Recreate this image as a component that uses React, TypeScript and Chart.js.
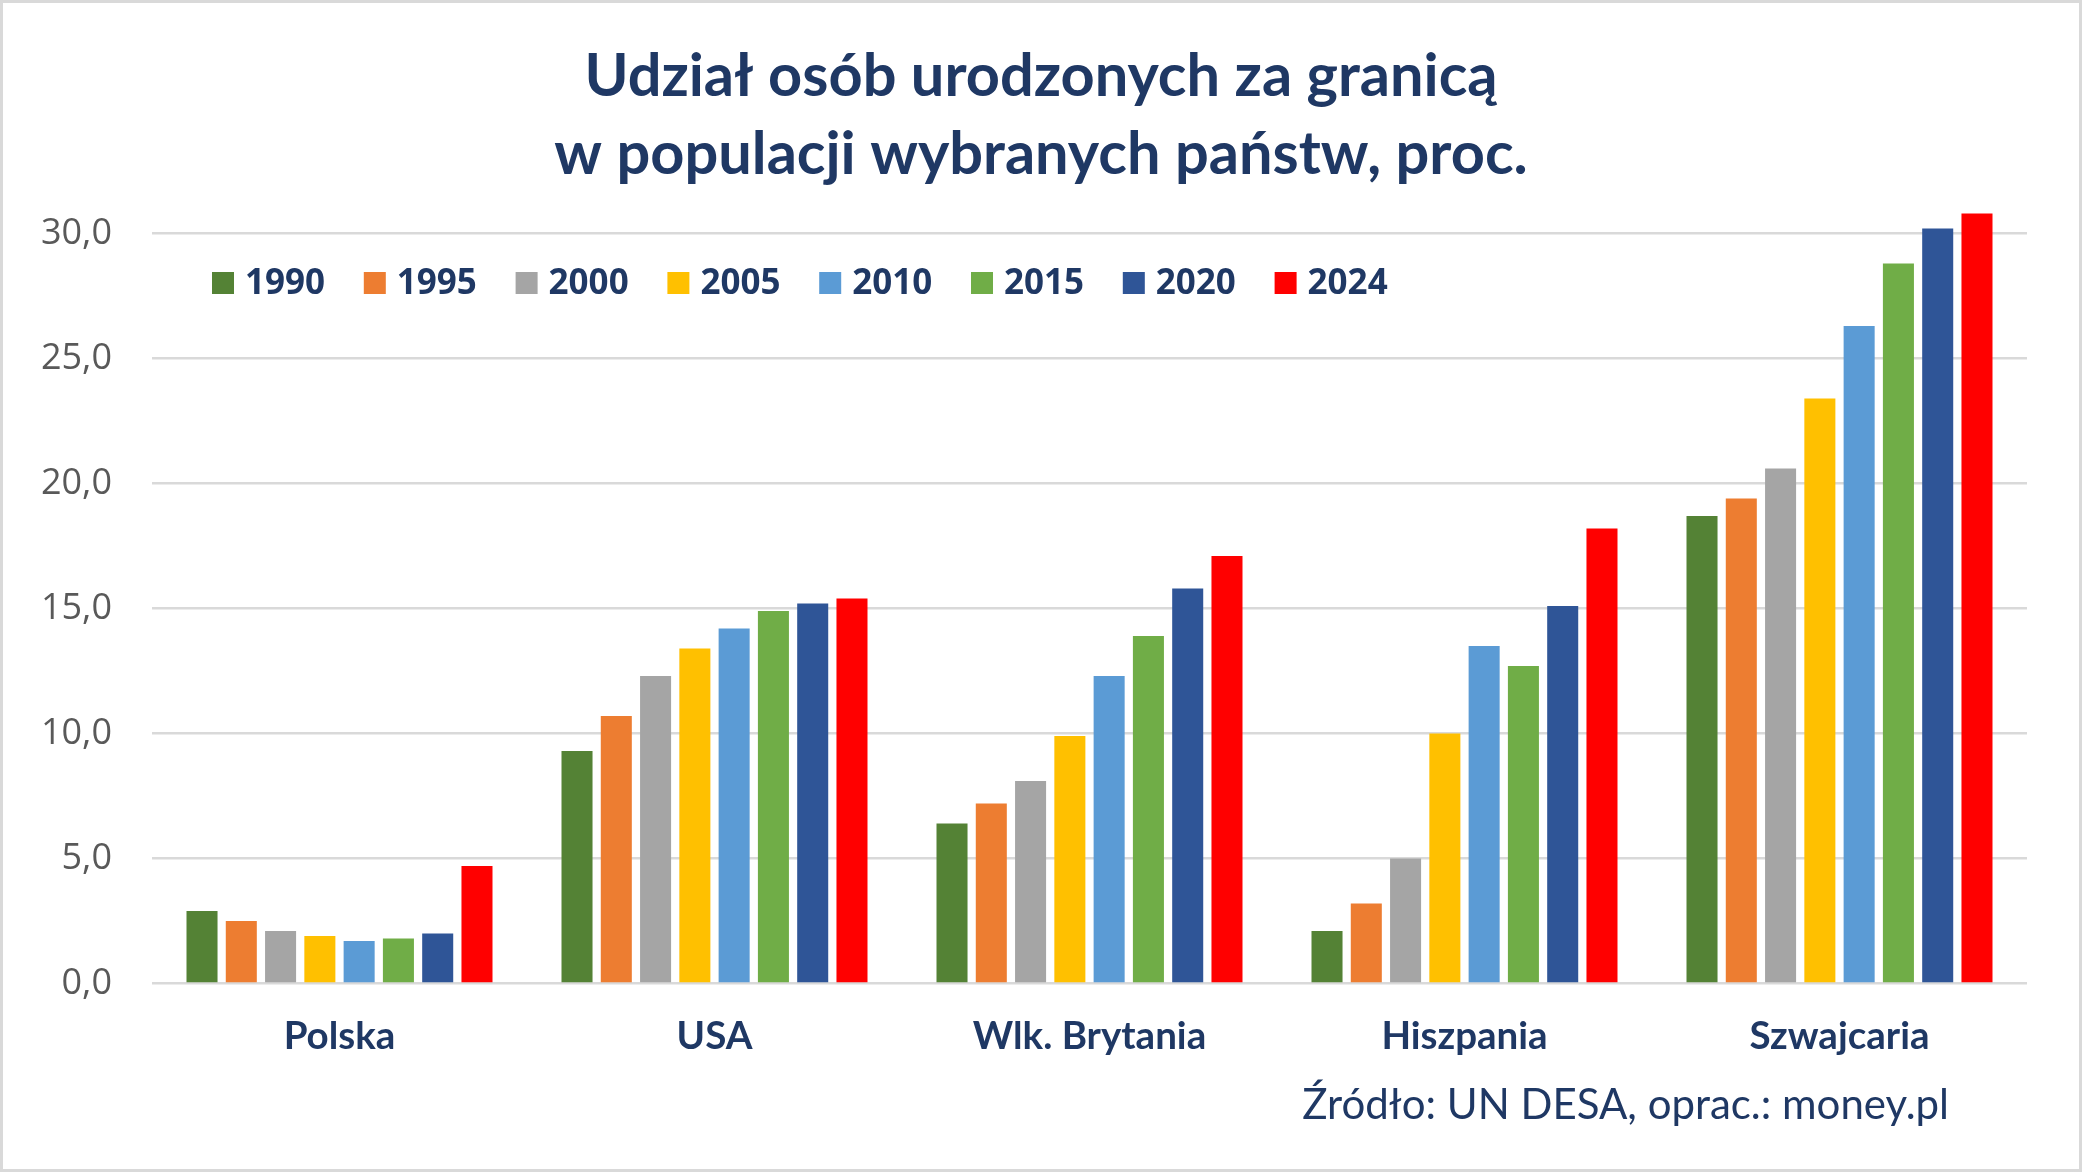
import { useEffect, useRef } from "react";
import { Chart, registerables } from "chart.js";

Chart.register(...registerables);

// Data: share of foreign-born residents, % of population
const categories = ["Polska", "USA", "Wlk. Brytania", "Hiszpania", "Szwajcaria"];
const years = ["1990", "1995", "2000", "2005", "2010", "2015", "2020", "2024"];
const v1990 = [2.9, 9.3, 6.4, 2.1, 18.7];
const v1995 = [2.5, 10.7, 7.2, 3.2, 19.4];
const v2000 = [2.1, 12.3, 8.1, 5.0, 20.6];
const v2005 = [1.9, 13.4, 9.9, 10.0, 23.4];
const v2010 = [1.7, 14.2, 12.3, 13.5, 26.3];
const v2015 = [1.8, 14.9, 13.9, 12.7, 28.8];
const v2020 = [2.0, 15.2, 15.8, 15.1, 30.2];
const v2024 = [4.7, 15.4, 17.1, 18.2, 30.8];
const seriesValues = [v1990, v1995, v2000, v2005, v2010, v2015, v2020, v2024];
const seriesColors = ["#548235", "#ED7D31", "#A5A5A5", "#FFC000", "#5B9BD5", "#70AD47", "#2F5597", "#FF0000"];
const yTicks = [0, 5, 10, 15, 20, 25, 30];
const titleLines = ["Udział osób urodzonych za granicą", "w populacji wybranych państw, proc."];
const sourceNote = "Źródło: UN DESA, oprac.: money.pl";

const NAVY = "#1F3864";
const W = 2082;
const H = 1172;

// White background with a light grey frame
const framePlugin = {
  id: "frame",
  beforeDraw(chart: any) {
    const { ctx } = chart;
    ctx.save();
    ctx.fillStyle = "#FFFFFF";
    ctx.fillRect(0, 0, chart.width, chart.height);
    ctx.strokeStyle = "#D9D9D9";
    ctx.lineWidth = 3;
    ctx.strokeRect(1.5, 1.5, chart.width - 3, chart.height - 3);
    ctx.restore();
  },
};

// Single-row legend placed inside the plot, top-left
const insideLegendPlugin = {
  id: "insideLegend",
  afterDraw(chart: any) {
    const { ctx } = chart;
    ctx.save();
    ctx.font = "700 35px 'Open Sans'";
    ctx.textBaseline = "alphabetic";
    ctx.textAlign = "left";
    chart.data.datasets.forEach((ds: any, i: number) => {
      const x = 212 + i * 151.8;
      ctx.fillStyle = ds.backgroundColor;
      ctx.fillRect(x, 272, 22, 22);
      ctx.fillStyle = NAVY;
      ctx.fillText(ds.label, x + 33, 294);
    });
    ctx.restore();
  },
};

// Source note, bottom right
const sourcePlugin = {
  id: "sourceNote",
  afterDraw(chart: any) {
    const { ctx } = chart;
    ctx.save();
    ctx.font = "400 42px Lato";
    ctx.fillStyle = NAVY;
    ctx.textAlign = "right";
    ctx.textBaseline = "alphabetic";
    ctx.fillText(sourceNote, 1949, 1119);
    ctx.restore();
  },
};

export default function App() {
  const canvasRef = useRef<HTMLCanvasElement | null>(null);

  useEffect(() => {
    const canvas = canvasRef.current;
    if (!canvas) return;
    const chart = new Chart(canvas, {
      type: "bar",
      data: {
        labels: categories,
        datasets: years.map((y, i) => ({
          label: y,
          data: seriesValues[i],
          backgroundColor: seriesColors[i],
          borderWidth: 0,
          categoryPercentage: 0.838,
          barPercentage: 0.79,
        })),
      },
      options: {
        responsive: false,
        animation: false,
        devicePixelRatio: 1,
        layout: { padding: { top: 0, left: 0, right: 0, bottom: 88.5 } },
        plugins: {
          legend: { display: false },
          tooltip: { enabled: false },
          title: {
            display: true,
            text: titleLines,
            color: NAVY,
            font: { family: "Lato", weight: "bold", size: 59.5, lineHeight: "78px" },
            padding: { top: 38, bottom: 4.5 },
          },
        },
        scales: {
          x: {
            grid: { display: false },
            border: { display: false },
            ticks: {
              color: NAVY,
              font: { family: "Lato", weight: "bold", size: 38.5 },
              padding: 22,
              maxRotation: 0,
              autoSkip: false,
            },
            afterFit(scale: any) {
              scale.height = 100;
            },
          },
          y: {
            min: 0,
            max: 31.4,
            grid: { color: "#D9D9D9", lineWidth: 2.5, drawTicks: false },
            border: { display: false },
            ticks: {
              stepSize: 5,
              color: "#595959",
              font: { family: "'Open Sans'", size: 36 },
              padding: 40,
              callback: (v: any) => Number(v).toFixed(1).replace(".", ","),
            },
            afterBuildTicks(scale: any) {
              scale.ticks = yTicks.map((value) => ({ value }));
            },
            afterFit(scale: any) {
              scale.width = 152;
            },
          },
          // empty margin axis on the right so the title stays centred on the canvas
          yRight: {
            position: "right",
            display: true,
            min: 0,
            max: 31.4,
            grid: { display: false, drawTicks: false },
            border: { display: false },
            ticks: { display: false },
            afterFit(scale: any) {
              scale.width = 55;
            },
          },
        },
      },
      plugins: [framePlugin, insideLegendPlugin, sourcePlugin],
    });
    return () => chart.destroy();
  }, []);

  return (
    <div style={{ position: "fixed", left: 0, top: 0, width: W, height: H, background: "#fff" }}>
      <canvas ref={canvasRef} width={W} height={H} style={{ display: "block", width: W, height: H }} />
    </div>
  );
}
